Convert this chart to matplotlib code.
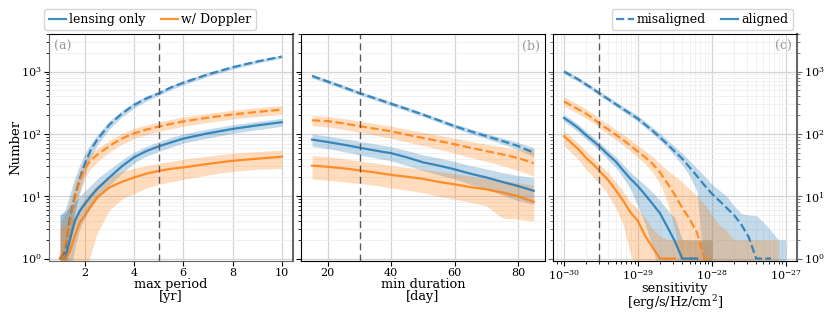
import numpy as np
import matplotlib
matplotlib.use('Agg')
import matplotlib.pyplot as plt
from matplotlib.lines import Line2D

plt.rcParams['font.family'] = 'DejaVu Serif'
plt.rcParams['mathtext.fontset'] = 'dejavuserif'
plt.rcParams['font.size'] = 9

nan = np.nan

# ---- panel (a): max period [yr]
period = [1.0, 1.2, 1.4, 1.6, 1.8, 2.0, 2.25, 2.5, 3, 3.5, 4, 4.5, 5, 5.5, 6, 7, 8, 9, 10]
a_mis_lens = [1, 1.3, 4.5, 10, 19, 33, 55, 80, 140, 210, 290, 370, 445, 555, 660, 900, 1170, 1450, 1740]
a_mis_lens_lo = [0.5, 0.5, 2, 5.5, 12, 22, 42, 65, 120, 185, 258, 335, 410, 510, 610, 835, 1090, 1360, 1640]
a_mis_lens_hi = [5, 6, 11, 20, 32, 48, 70, 96, 162, 235, 322, 405, 480, 600, 715, 965, 1250, 1540, 1830]
a_mis_dop = [1, 1.6, 3.8, 10, 18, 28, 38, 46, 64, 84, 102, 117, 131, 145, 158, 182, 205, 225, 245]
a_mis_dop_lo = [0.5, 0.5, 1.5, 5.5, 11, 19, 28, 35, 51, 68, 84, 97, 109, 121, 132, 153, 173, 190, 208]
a_mis_dop_hi = [4, 5, 8, 16, 26, 38, 49, 58, 78, 101, 122, 139, 155, 171, 186, 213, 240, 262, 285]
a_al_lens = [1, 1, 2, 4, 5.8, 7.5, 10, 13, 20, 30, 42, 53, 63, 73, 84, 102, 120, 137, 154]
a_al_lens_lo = [0.5, 0.5, 0.5, 1.5, 3, 4.5, 6.5, 9, 15, 23, 34, 44, 52, 61, 71, 86, 102, 117, 132]
a_al_lens_hi = [5, 5.5, 7, 8, 10, 12, 15, 19, 27, 38, 51, 63, 75, 87, 100, 120, 140, 158, 178]
a_al_dop = [1, 1, 1.3, 2.3, 3.8, 4.9, 7, 9.5, 13.8, 17, 20, 23, 25.5, 27.5, 29, 33, 37, 40, 43]
a_al_dop_lo = [0.5, 0.5, 0.5, 0.5, 0.5, 0.5, 1.2, 2.5, 6, 9, 11, 13.5, 15.5, 17, 18.5, 22, 25, 27, 28]
a_al_dop_hi = [3, 3.5, 4, 5, 7, 9.5, 12, 15, 21, 25, 28, 31, 34, 36, 39, 44, 49, 52, 55]

# ---- panel (b): min duration [day]
duration = [15, 20, 25, 30, 35, 40, 45, 50, 55, 60, 65, 70, 75, 80, 85]
b_mis_lens = [850, 690, 560, 450, 370, 304, 250, 204, 165, 133, 110, 92, 77, 64, 50]
b_mis_lens_lo = [790, 640, 520, 420, 345, 283, 232, 190, 153, 123, 101, 84, 69, 56, 43]
b_mis_lens_hi = [910, 740, 600, 485, 400, 328, 270, 220, 178, 145, 121, 102, 86, 73, 60]
b_mis_dop = [165, 160, 147, 133, 121, 110, 97, 86, 77, 68, 60, 53, 47, 41, 34]
b_mis_dop_lo = [135, 130, 118, 106, 95, 85, 74, 65, 57, 49, 42, 36, 31, 26, 21]
b_mis_dop_hi = [196, 190, 176, 160, 146, 133, 118, 106, 95, 85, 76, 68, 62, 56, 58]
b_al_lens = [81, 74, 67, 60, 54, 49, 42, 35, 31, 27, 23, 20, 17, 14.6, 12.2]
b_al_lens_lo = [63, 58, 52, 46, 41, 37, 31, 26, 22, 19, 15.5, 13, 10.5, 8.5, 7.4]
b_al_lens_hi = [100, 92, 84, 76, 69, 62, 54, 46, 41, 36, 31, 27.5, 24, 21.5, 20]
b_al_dop = [31, 29.6, 28, 26, 24, 22, 20.5, 19, 17, 15.5, 14, 12.9, 11.5, 10, 8.1]
b_al_dop_lo = [19, 18, 17, 16, 15, 13.5, 12.5, 11.4, 10, 9, 8, 7, 4.5, 4.3, 4.0]
b_al_dop_hi = [45, 43, 40, 37, 34, 31, 29, 27, 25, 23, 21, 19.5, 18, 16.5, 15]

# ---- panel (c): sensitivity [erg/s/Hz/cm^2]
sensitivity = np.logspace(-30, -27, 31)
c_mis_lens = [1000, 860, 740, 620, 520, 430, 360, 300, 250, 210, 175, 140, 112, 88, 68, 52,
              40, 29, 21, 15, 11, 8.5, 6.5, 5, 3.5, 2.2, 1, 1, 1, nan, nan]
c_mis_lens_lo = [920, 790, 680, 570, 478, 395, 330, 275, 228, 190, 158, 126, 100, 78, 60, 44,
                 32, 21, 12, 0.5, 0.5, 0.5, 0.5, 0.5, 0.5, 0.5, 0.5, 0.5, 0.5, 0.5, 0.5]
c_mis_lens_hi = [1080, 930, 800, 670, 565, 470, 395, 330, 276, 234, 196, 158, 128, 102, 80, 62,
                 49, 37, 28, 21, 15.5, 12.5, 10, 7, 5.3, 5, 4.9, 3.8, 2.8, 2, 2]
c_mis_dop = [330, 285, 245, 210, 175, 140, 118, 97, 80, 65, 52, 42, 33, 24, 16, 10.5,
             6.5, 4.3, 2.6, 1, 1, nan, nan, nan, nan, nan, nan, nan, nan, nan, nan]
c_mis_dop_lo = [280, 242, 208, 178, 148, 118, 99, 81, 66, 53, 42, 33, 24, 16, 8, 3,
                0.5, 0.5, 0.5, 0.5, 0.5, 0.5, 0.5, 0.5, 0.5, 0.5, 0.5, 0.5, 0.5, 0.5, nan]
c_mis_dop_hi = [390, 340, 292, 250, 210, 170, 143, 118, 98, 80, 65, 53, 43, 33, 26, 21,
                17, 13, 10, 7.5, 5, 3.5, 2.8, 2, 2, 2, 2, 2, 2, 2, nan]
c_al_lens = [180, 150, 122, 95, 76, 60, 46, 36, 26, 19, 14.5, 10.5, 7.5, 5.3, 3.2, 1.9,
             1, 1, 1, nan, nan, nan, nan, nan, nan, nan, nan, nan, nan, nan, nan]
c_al_lens_lo = [158, 130, 105, 82, 65, 51, 38, 29, 20, 13, 7, 3.5, 1.5, 0.5, 0.5, 0.5,
                0.5, 0.5, 0.5, 0.5, 0.5, nan, nan, nan, nan, nan, nan, nan, nan, nan, nan]
c_al_lens_hi = [205, 172, 140, 110, 88, 70, 54, 43, 32, 24, 19, 15, 11.5, 8.5, 6, 4.5,
                2, 2, 2, 2, 2, nan, nan, nan, nan, nan, nan, nan, nan, nan, nan]
c_al_dop = [92, 72, 56, 41, 32, 24, 18, 12.5, 8.5, 5.5, 4.0, 2.3, 1.5, 1, 1, 1,
            nan, nan, nan, nan, nan, nan, nan, nan, nan, nan, nan, nan, nan, nan, nan]
c_al_dop_lo = [65, 50, 38, 27, 20, 15, 10.5, 6.5, 3.5, 1.2, 0.5, 0.5, 0.5, 0.5, 0.5, 0.5,
               0.5, 0.5, 0.5, 0.5, 0.5, nan, nan, nan, nan, nan, nan, nan, nan, nan, nan]
c_al_dop_hi = [112, 88, 70, 53, 41, 31, 24, 17, 12, 8, 6.2, 4.5, 3, 2.3, 2, 2,
               2, 2, 2, 2, 2, nan, nan, nan, nan, nan, nan, nan, nan, nan, nan]

cuts = [5, 30, 3e-30]
xlabels = ['max period\n[yr]', 'min duration\n[day]', 'sensitivity\n[erg/s/Hz/cm$^2$]']
tags = ['(a)', '(b)', '(c)']

blue = '#1f77b4'
orange = '#ff7f0e'


def draw(ax, x, mid, lo, hi, color, ls):
    ax.fill_between(x, lo, hi, color=color, alpha=0.27, lw=0)
    ax.plot(x, mid, color=color, ls=ls, lw=1.6, alpha=0.85)


fig, axes = plt.subplots(1, 3, figsize=(8.3, 3.12), dpi=100, sharey=True)
fig.subplots_adjust(left=0.059, right=0.96, top=0.891, bottom=0.165, wspace=0.033)

panels = [
    (period, a_mis_lens, a_mis_lens_lo, a_mis_lens_hi, a_mis_dop, a_mis_dop_lo, a_mis_dop_hi,
     a_al_lens, a_al_lens_lo, a_al_lens_hi, a_al_dop, a_al_dop_lo, a_al_dop_hi),
    (duration, b_mis_lens, b_mis_lens_lo, b_mis_lens_hi, b_mis_dop, b_mis_dop_lo, b_mis_dop_hi,
     b_al_lens, b_al_lens_lo, b_al_lens_hi, b_al_dop, b_al_dop_lo, b_al_dop_hi),
    (sensitivity, c_mis_lens, c_mis_lens_lo, c_mis_lens_hi, c_mis_dop, c_mis_dop_lo, c_mis_dop_hi,
     c_al_lens, c_al_lens_lo, c_al_lens_hi, c_al_dop, c_al_dop_lo, c_al_dop_hi),
]

for i, ax in enumerate(axes):
    p = panels[i]
    x = p[0]
    draw(ax, x, p[1], p[2], p[3], blue, '--')
    draw(ax, x, p[4], p[5], p[6], orange, '--')
    draw(ax, x, p[7], p[8], p[9], blue, '-')
    draw(ax, x, p[10], p[11], p[12], orange, '-')
    ax.axvline(cuts[i], color='0.35', ls=(0, (5, 3)), lw=1.0)
    ax.set_yscale('log')
    if i == 2:
        ax.set_xscale('log')
        ax.set_xticks([1e-30, 1e-29, 1e-28, 1e-27])
    ax.set_ylim(0.93, 4000)
    ax.set_xlabel(xlabels[i], fontsize=9.3, labelpad=0, linespacing=0.9)
    ax.grid(which='major', color='#d4d4d4', lw=0.9)
    ax.grid(which='minor', color='#efefef', lw=0.6)
    ax.set_axisbelow(True)
    ax.tick_params(labelsize=8, pad=2)
    if i == 0:
        ax.text(0.02, 0.975, tags[i], transform=ax.transAxes, ha='left', va='top',
                color='0.6', fontsize=9)
    else:
        ax.text(0.98, 0.975, tags[i], transform=ax.transAxes, ha='right', va='top',
                color='0.6', fontsize=9)

axes[0].set_ylabel('Number', fontsize=9.5, labelpad=-1)
for s in ['left', 'bottom', 'right']:
    axes[0].spines[s].set_color('0.4')
axes[0].spines['right'].set_linewidth(1.5)
axes[2].spines['right'].set_color('0.4')
axes[2].spines['right'].set_linewidth(1.5)
axes[2].tick_params(axis='y', which='both', right=True, labelright=True, colors='0.4',
                    labelcolor='black')

leg1 = axes[0].legend([Line2D([], [], color=blue, lw=1.6, alpha=0.85),
                       Line2D([], [], color=orange, lw=1.6, alpha=0.85)],
                      ['lensing only', 'w/ Doppler'], loc='lower left',
                      bbox_to_anchor=(-0.035, 1.0), ncol=2, fontsize=9,
                      handlelength=1.4, handletextpad=0.25, columnspacing=1.2,
                      borderaxespad=0.3, borderpad=0.35)
leg2 = axes[2].legend([Line2D([], [], color=blue, lw=1.6, ls='--', alpha=0.85),
                       Line2D([], [], color=blue, lw=1.6, alpha=0.85)],
                      ['misaligned', 'aligned'], loc='lower right',
                      bbox_to_anchor=(1.0, 1.0), ncol=2, fontsize=9,
                      handlelength=1.4, handletextpad=0.25, columnspacing=1.2,
                      borderaxespad=0.3, borderpad=0.35)

fig.savefig('out.png', dpi=100)
